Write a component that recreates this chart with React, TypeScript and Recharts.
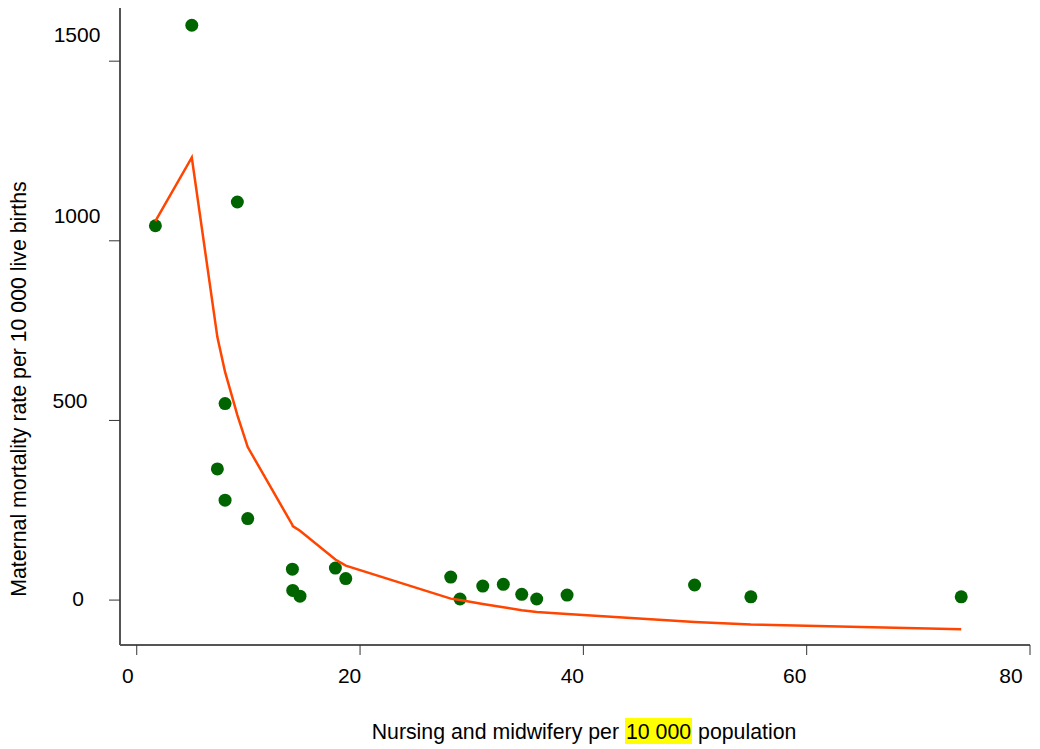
import { ScatterChart, Scatter, XAxis, YAxis, Label } from 'recharts';

// nursing & midwifery density (per 10 000) vs maternal mortality
const nurses = [
  1.67, 4.93, 7.22, 7.91, 7.91, 9.01, 9.94, 13.94, 13.97, 14.62, 17.79, 18.72,
  28.12, 28.95, 30.99, 32.83, 34.48, 35.82, 38.54, 49.96, 55.0, 73.84,
];
const mortality = [
  1042, 1600, 365, 547, 278, 1108, 227, 86, 27, 11, 89, 60,
  64, 3, 39, 44, 16, 3, 14, 42, 9, 9,
];
// fitted curve, evaluated at the same x values
const fitted = [
  1055, 1232, 732, 635, 635, 515, 426, 209, 206, 193, 113, 96,
  4, 0, -11, -20, -28, -33, -39, -61, -68, -81,
];

const xTicks = [0, 20, 40, 60, 80];
const yTicks = [0, 500, 1000, 1500];

const FONT = '"Liberation Sans", Arial, Helvetica, sans-serif';
const AXIS_COLOR = '#555555';

// the source places its tick labels a little unevenly; keep that look
const X_NUDGE: Record<number, number> = { 0: -9, 20: -10.5, 40: -11, 60: -12, 80: -13 };
const Y_NUDGE: Record<number, { dx: number; dy: number }> = {
  0: { dx: -23, dy: -2 },
  500: { dx: -31, dy: -19.5 },
  1000: { dx: -24, dy: -25 },
  1500: { dx: -24, dy: -27 },
};

const points = nurses.map((x, i) => ({ x, y: mortality[i] }));
const curve = nurses.map((x, i) => ({ x, y: fitted[i] }));

function XTick(props: any) {
  const { x, y, payload } = props;
  return (
    <text
      x={x + (X_NUDGE[payload.value] ?? -11)}
      y={y}
      dy="0.71em"
      textAnchor="middle"
      fontSize={21}
      fontFamily={FONT}
      fill="#000"
    >
      {payload.value}
    </text>
  );
}

function YTick(props: any) {
  const { x, y, payload } = props;
  const n = Y_NUDGE[payload.value] ?? { dx: -24, dy: 0 };
  return (
    <text
      x={x + n.dx}
      y={y + n.dy}
      dy="0.355em"
      textAnchor="middle"
      fontSize={21}
      fontFamily={FONT}
      fill="#000"
    >
      {payload.value}
    </text>
  );
}

function XTitle() {
  return (
    <foreignObject x={76} y={710} width={1000} height={36}>
      <div
        style={{
          width: '100%',
          textAlign: 'center',
          fontFamily: FONT,
          fontSize: 21.3,
          lineHeight: '28px',
          color: '#000',
          whiteSpace: 'nowrap',
        }}
      >
        Nursing and midwifery per{' '}
        <span style={{ background: '#ffff00', padding: '4px 1px 0' }}>10 000</span>{' '}
        population
      </div>
    </foreignObject>
  );
}

function YTitle() {
  return (
    <text
      transform="translate(18, 381) rotate(-90)"
      textAnchor="middle"
      fontSize={21.3}
      fontFamily={FONT}
      fill="#000"
    >
      Maternal mortality rate per 10 000 live births
    </text>
  );
}

const Dot = (p: any) => <circle cx={p.cx} cy={p.cy} r={6.5} fill="#006400" />;
const NoDot = () => <g />;

export default function App() {
  return (
    <div style={{ fontFamily: FONT }}>
      <ScatterChart
        width={1024}
        height={741}
        margin={{ top: 0, right: 2, bottom: 0, left: 0 }}
      >
        <XAxis
          type="number"
          dataKey="x"
          domain={[-1.5, 80]}
          ticks={xTicks}
          allowDataOverflow
          height={104}
          axisLine={{ stroke: AXIS_COLOR, strokeWidth: 2 }}
          tickLine={{ stroke: '#333' }}
          tickSize={10}
          tickMargin={13}
          tick={<XTick />}
        >
          <Label content={() => <XTitle />} />
        </XAxis>
        <YAxis
          type="number"
          dataKey="y"
          domain={[-125, 1648]}
          ticks={yTicks}
          allowDataOverflow
          width={112}
          axisLine={{ stroke: AXIS_COLOR, strokeWidth: 2 }}
          tickLine={{ stroke: '#333' }}
          tickSize={11}
          tickMargin={8}
          tick={<YTick />}
        >
          <Label content={() => <YTitle />} />
        </YAxis>
        <Scatter data={points} shape={Dot} isAnimationActive={false} />
        <Scatter
          data={curve}
          line={{ stroke: '#ff4500', strokeWidth: 2.5 }}
          lineType="joint"
          shape={NoDot}
          isAnimationActive={false}
        />
      </ScatterChart>
    </div>
  );
}
